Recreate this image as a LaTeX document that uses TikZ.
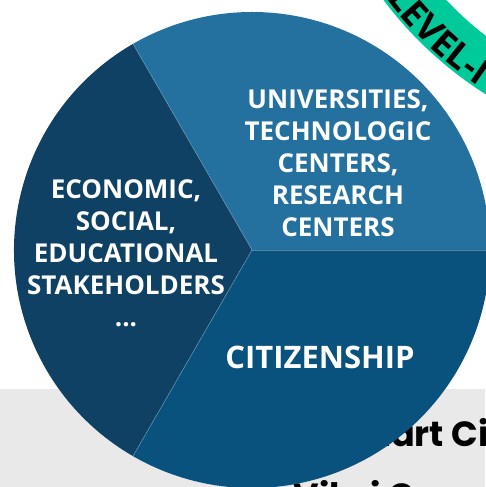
\documentclass[tikz,border=0pt]{standalone}
\usepackage{fontspec}
\setmainfont{Open Sans}
\newfontfamily\poppins{Poppins}
\usetikzlibrary{decorations.text}
\definecolor{univblue}{HTML}{2471A0}
\definecolor{stakeblue}{HTML}{0E4163}
\definecolor{citiblue}{HTML}{08527D}
\definecolor{levelgreen}{HTML}{00C99A}
\definecolor{slidegray}{HTML}{E9E9E9}
\begin{document}
\begin{tikzpicture}[x=1pt,y=1pt,
    sector/.style={text=white,align=center,font=\bfseries\fontsize{26}{32}\selectfont},
    slide/.style={anchor=base west,font=\poppins\bfseries\fontsize{35}{42}\selectfont}]
  \useasboundingbox (0,0) rectangle (485,487);
  \fill[white] (0,0) rectangle (485,487);
  \fill[slidegray] (0,0) rectangle (485,98);
  \node[slide] (smart) at (329,40) {Smart City};
  \node[slide] (town) at (290,-21) {Vila i Ca};
  \coordinate (O) at (252,237);
  \coordinate (badge) at (692,719);
  % green ring of the badge
  \fill[levelgreen,even odd rule] (badge) circle[radius=386] (badge) circle[radius=338];
  \path[decorate,decoration={text along path,text align=left,
      text={|\bfseries\fontsize{36}{36}\selectfont|LEVEL-I}}]
    (badge) ++(217:383) arc[start angle=217,end angle=260,radius=383];
  % pie
  \fill[univblue] (O) -- ++(0:238) arc[start angle=0,end angle=120,radius=238] -- cycle;
  \fill[stakeblue] (O) -- ++(120:238) arc[start angle=120,end angle=240,radius=238] -- cycle;
  \fill[citiblue] (O) -- ++(240:238) arc[start angle=240,end angle=360,radius=238] -- cycle;
  \foreach \a in {0,120,240}
    \draw[white,opacity=.3,line width=.6pt] (O) -- ++(\a:238);
  \node[sector] (univ) at (338,324) {UNIVERSITIES,\\TECHNOLOGIC\\CENTERS,\\RESEARCH\\CENTERS};
  \node[sector] (stake) at (126,234) {ECONOMIC,\\SOCIAL,\\EDUCATIONAL\\STAKEHOLDERS\\...};
  \node[sector,font=\bfseries\fontsize{31}{32}\selectfont] (citizen) at (320,130) {CITIZENSHIP};
\end{tikzpicture}
\end{document}
